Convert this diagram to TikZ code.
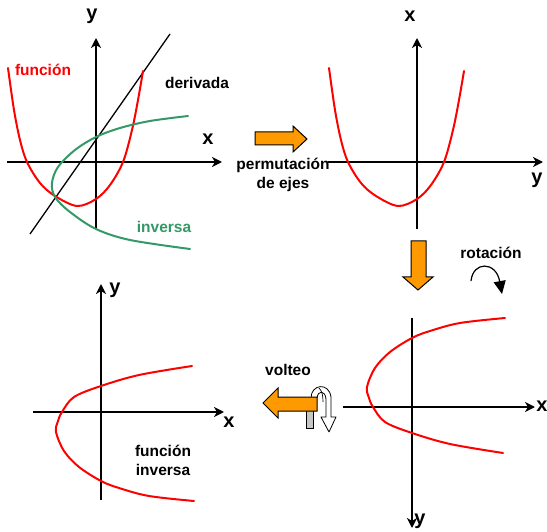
\documentclass[tikz,border=0pt]{standalone}
\usepackage{fontspec}
\setmainfont{Liberation Sans}
\usetikzlibrary{arrows.meta}
\definecolor{orng}{RGB}{255,153,0}
\definecolor{grn}{RGB}{51,153,102}
\begin{document}
\begin{tikzpicture}[x=1pt,y=-1pt,
  axis/.style={line width=1.8pt,-{Stealth[length=10pt,width=10pt,inset=3pt]}},
  curve/.style={line width=2pt,red,line join=round,line cap=round},
  lbl/.style={font=\fontsize{15.5}{19}\selectfont\bfseries,inner sep=0pt},
  axlbl/.style={font=\fontsize{20}{22}\selectfont\bfseries,inner sep=0pt},
  bigarrow/.style={fill=orng,draw=black,line width=1pt,line join=miter}]
\useasboundingbox[fill=white] (0,0) rectangle (547,532);

% ---------- panel 1 ----------
\coordinate (p1xs) at (7,162);   \coordinate (p1xe) at (222,162);
\coordinate (p1ys) at (96,229);  \coordinate (p1ye) at (96,38);
\draw[axis] (p1xs) -- (p1xe);
\draw[axis] (p1ys) -- (p1ye);
\node[axlbl] (p1x) at (208,139) {x};
\node[axlbl] (p1y) at (92,16) {y};
\coordinate (d1) at (30,234); \coordinate (d2) at (170,34);
\draw[line width=1.3pt] (d1) -- (d2);
\begin{scope}[shift={(96,162)}]
\draw[curve] plot[smooth,tension=0.55] coordinates {(-88,-94) (-82,-52) (-76,-22) (-69,0) (-56,21) (-41,34) (-19,44) (0,37) (14,23) (27,0) (36,-32) (42,-62) (47,-91)};
\end{scope}
\draw[curve,grn] plot[smooth,tension=0.55] coordinates {(188,116) (150,121) (120,128) (96,137) (75,150) (58,167) (52,183) (55,197) (70,212) (96,229) (130,240) (190,249)};
\node[lbl,red] (fun) at (43,70) {función};
\node[lbl] (der) at (197,83) {derivada};
\node[lbl,grn] (inv) at (164,227) {inversa};

% ---------- arrow 1 ----------
\draw[bigarrow] (255,132) -- (293,132) -- (293,126) -- (307,139) -- (293,152) -- (293,145) -- (255,145) -- cycle;
\node[lbl,align=center] (perm) at (283,175) {permutación\\de ejes};

% ---------- panel 2 ----------
\coordinate (p2xs) at (328,162);  \coordinate (p2xe) at (543,162);
\coordinate (p2ys) at (417,229);  \coordinate (p2ye) at (417,38);
\draw[axis] (p2xs) -- (p2xe);
\draw[axis] (p2ys) -- (p2ye);
\node[axlbl] (p2x) at (410,16) {x};
\node[axlbl] (p2y) at (537,180) {y};
\begin{scope}[shift={(417,162)}]
\draw[curve] plot[smooth,tension=0.55] coordinates {(-88,-94) (-82,-52) (-76,-22) (-69,0) (-56,21) (-41,34) (-19,44) (0,37) (14,23) (27,0) (36,-32) (42,-62) (47,-91)};
\end{scope}

% ---------- arrow 2 ----------
\draw[bigarrow] (411,241) -- (426,241) -- (426,277) -- (433,277) -- (418,290) -- (403,277) -- (411,277) -- cycle;
\node[lbl] (rot) at (491,253) {rotación};
\coordinate (r1) at (471,281); \coordinate (r2) at (502,294);
\draw[line width=1.2pt,-{Triangle[length=13pt,width=12pt]}] (r1) .. controls (473,261) and (496,261) .. (r2);

% ---------- panel 4 ----------
\coordinate (p4xs) at (343,407);  \coordinate (p4xe) at (535,407);
\coordinate (p4ys) at (412,318);  \coordinate (p4ye) at (412,528);
\draw[axis] (p4xs) -- (p4xe);
\draw[axis] (p4ys) -- (p4ye);
\node[axlbl] (p4x) at (542,406) {x};
\node[axlbl] (p4y) at (420,521) {y};
\begin{scope}[shift={(412,407)}]
\draw[curve] plot[smooth,tension=0.55] coordinates {(93,-89) (48,-84) (18,-76) (0,-69) (-22,-55) (-37,-39) (-45,-20) (-43,-9) (-39,0) (-27,15) (0,26) (38,37) (91,46)};
\end{scope}

% ---------- volteo arrow ----------
\draw[fill=gray!45,line width=0.8pt] (306,409) rectangle (313,428);
\draw[fill=white,line width=0.8pt,line join=round] (311,398) .. controls (311,384) and (329,382) .. (331,397) -- (331,417) -- (336,417) -- (329,432) -- (321,417) -- (326,417) -- (326,399) .. controls (325,390) and (318,390) .. (317,398) -- cycle;
\draw[line width=0.7pt] (319,388) .. controls (322,391) and (323,395) .. (323,402);
\draw[bigarrow] (263,403) -- (278,388) -- (278,397) -- (317,397) -- (317,411) -- (278,411) -- (278,418) -- cycle;
\node[lbl] (volt) at (288,370) {volteo};

% ---------- panel 3 ----------
\coordinate (p3xs) at (33,412);  \coordinate (p3xe) at (224,412);
\coordinate (p3ys) at (101,500); \coordinate (p3ye) at (101,284);
\draw[axis] (p3xs) -- (p3xe);
\draw[axis] (p3ys) -- (p3ye);
\node[axlbl] (p3x) at (229,422) {x};
\node[axlbl] (p3y) at (115,290) {y};
\begin{scope}[shift={(101,412)},yscale=-1]
\draw[curve] plot[smooth,tension=0.55] coordinates {(93,-89) (48,-84) (18,-76) (0,-69) (-22,-55) (-37,-39) (-45,-20) (-43,-9) (-39,0) (-27,15) (0,26) (38,37) (91,46)};
\end{scope}
\node[lbl,align=center] (finv) at (163,460) {función\\inversa};
\end{tikzpicture}
\end{document}
